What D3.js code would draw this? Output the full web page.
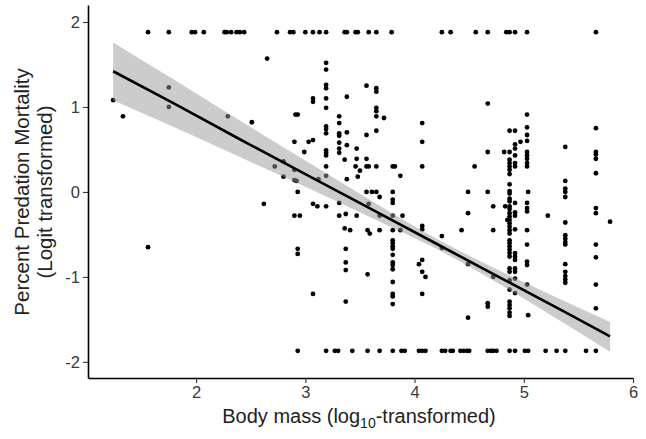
<!DOCTYPE html>
<html>
<head>
<meta charset="utf-8">
<script src="https://cdn.jsdelivr.net/npm/d3@7"></script>
<style>
body { margin: 0; background: #fff; }
text { font-family: "Liberation Sans", Arial, sans-serif; }
</style>
</head>
<body>
<div id="chart"></div>
<script>
// body mass values of the points sitting on the top cap (logit = 1.88)
var topRowMass = [1.56, 1.75, 1.96, 1.99, 2.07, 2.26, 2.28, 2.32, 2.37, 2.40, 2.44, 2.74,
	2.86, 2.89, 3.00, 3.07, 3.13, 3.19, 3.36, 3.38, 3.46, 3.48, 3.58, 3.65, 3.79, 4.25,
	4.33, 4.56, 4.67, 4.84, 4.87, 4.92, 5.03, 5.66];
var topRowMort = 1.88;

// and the ones on the bottom cap (logit = -1.87)
var bottomRowMass = [2.93, 3.19, 3.27, 3.30, 3.43, 3.57, 3.68, 3.80, 3.88, 3.91, 4.04, 4.07,
	4.10, 4.25, 4.28, 4.33, 4.35, 4.42, 4.45, 4.48, 4.50, 4.67, 4.70, 4.72, 4.75, 4.87,
	4.92, 5.01, 5.04, 5.20, 5.30, 5.38, 5.57, 5.66];
var bottomRowMort = -1.87;

// everything in between: [body mass, mortality]
var midPoints = [
	[1.24, 1.08], [1.33, 0.89], [1.75, 1.23], [1.75, 1.00], [1.56, -0.65], [2.29, 0.89],
	[2.51, 0.82], [2.65, 1.57], [2.62, -0.14], [2.72, 0.30], [2.80, 0.36], [2.80, 0.18],
	[2.90, 0.59], [2.90, 0.26], [2.90, 0.14], [2.90, -0.28], [2.91, 0.91], [2.93, 0.91],
	[2.92, 0.13], [2.93, 0.00], [2.95, -0.28], [2.93, -0.67], [2.93, -0.73], [2.99, 0.47],
	[3.03, 0.59], [3.07, 0.61], [3.07, 1.10], [3.07, 1.06], [3.07, -0.14], [3.11, -0.17],
	[3.07, -1.20], [3.12, 0.15],
	[3.19, 1.52], [3.19, 1.44], [3.19, 1.26], [3.19, 1.22], [3.19, 1.10], [3.19, 0.99],
	[3.19, 0.77], [3.19, 0.74], [3.19, 0.69], [3.19, 0.49], [3.19, 0.46], [3.19, 0.43],
	[3.19, 0.30], [3.19, 0.19], [3.19, -0.17],
	[3.31, 0.89], [3.31, 0.81], [3.31, 0.69], [3.31, 0.66], [3.31, 0.58], [3.31, 0.51],
	[3.31, 0.46], [3.31, -0.13], [3.31, -0.28], [3.36, 0.38], [3.38, 1.12], [3.38, 0.70],
	[3.38, 0.55], [3.38, 0.15], [3.37, -0.26], [3.36, -0.43], [3.41, -0.45], [3.37, -0.67],
	[3.37, -0.83], [3.37, -0.92], [3.37, -1.29],
	[3.47, 0.51], [3.47, 0.39], [3.46, 0.30], [3.50, 0.25], [3.48, 0.18], [3.47, -0.28],
	[3.56, 1.25], [3.56, 0.67], [3.56, 0.39], [3.56, 0.30], [3.58, 0.30], [3.56, 0.00],
	[3.58, -0.14], [3.57, -0.45], [3.59, -0.49], [3.57, -0.97], [3.61, 0.00],
	[3.65, 1.22], [3.65, 1.18], [3.65, 0.99], [3.65, 0.95], [3.65, 0.89], [3.65, 0.72],
	[3.65, 0.30], [3.65, 0.00], [3.68, -0.06], [3.68, -0.28], [3.68, -0.45], [3.72, 0.87],
	[3.80, 0.30], [3.82, 0.30], [3.80, 0.00], [3.80, -0.09], [3.80, -0.13], [3.80, -0.28],
	[3.80, -0.45], [3.80, -0.57], [3.80, -0.60], [3.80, -0.64], [3.80, -0.67], [3.80, -0.74],
	[3.80, -0.83], [3.80, -0.86], [3.80, -0.91], [3.80, -1.06], [3.80, -1.20], [3.80, -1.23],
	[3.80, -1.32], [3.87, 0.19], [3.89, -0.28], [3.87, -0.45],
	[4.07, 0.81], [4.07, 0.59], [4.07, 0.30], [4.07, -0.40], [4.07, -0.44], [4.04, -0.85],
	[4.07, -0.80], [4.07, -0.94], [4.10, -1.00], [4.07, -1.20], [4.25, -0.52], [4.25, -0.66],
	[4.43, -0.45], [4.49, 0.00], [4.49, -0.25], [4.49, -0.85], [4.49, -1.48], [4.55, 0.30],
	[4.67, 1.04], [4.67, 0.47], [4.67, 0.00], [4.67, -1.31], [4.67, -1.35], [4.72, -0.17],
	[4.72, -0.45], [4.72, -1.00], [4.82, 0.47], [4.83, -0.17], [4.85, -0.33],
	[4.87, 0.72], [4.87, 0.47], [4.87, 0.38], [4.87, 0.34], [4.87, 0.30], [4.87, 0.26],
	[4.87, 0.21], [4.87, 0.09], [4.87, 0.01], [4.87, -0.02], [4.87, -0.08], [4.87, -0.11],
	[4.87, -0.17], [4.87, -0.20], [4.87, -0.25], [4.87, -0.29], [4.87, -0.33], [4.87, -0.37],
	[4.87, -0.41], [4.87, -0.45], [4.87, -0.49], [4.87, -0.57], [4.87, -0.60], [4.87, -0.64],
	[4.87, -0.68], [4.87, -0.72], [4.87, -0.76], [4.87, -0.90], [4.87, -0.94], [4.87, -1.04],
	[4.87, -1.15], [4.87, -1.29], [4.87, -1.33], [4.87, -1.37], [4.87, -1.42], [4.87, -1.46],
	[4.92, 0.72], [4.92, 0.56], [4.92, 0.51], [4.92, 0.43], [4.92, 0.34], [4.92, 0.30],
	[4.92, -0.13], [4.92, -0.24], [4.92, -0.28], [4.92, -0.44], [4.92, -0.72], [4.92, -0.76],
	[4.92, -0.80], [4.92, -0.90], [4.92, -0.94], [4.92, -1.02], [4.92, -1.19], [4.97, 0.59],
	[5.03, 0.91], [5.03, 0.76], [5.03, 0.67], [5.03, 0.60], [5.03, 0.47], [5.03, 0.43],
	[5.03, 0.39], [5.03, 0.34], [5.03, 0.30], [5.03, -0.13], [5.03, -0.19], [5.03, -0.23],
	[5.03, -0.45], [5.03, -0.62], [5.03, -0.82], [5.03, -0.86], [5.03, -1.09], [5.04, 0.00],
	[5.04, -1.45], [5.22, -0.28],
	[5.38, 0.53], [5.38, 0.13], [5.38, 0.04], [5.38, 0.00], [5.38, -0.06], [5.38, -0.36],
	[5.38, -0.51], [5.38, -0.55], [5.38, -0.59], [5.38, -0.62], [5.38, -0.85], [5.38, -0.94],
	[5.38, -0.99], [5.38, -1.03], [5.38, -1.07],
	[5.66, 0.75], [5.66, 0.47], [5.66, 0.44], [5.66, 0.39], [5.66, 0.22], [5.66, -0.19],
	[5.66, -0.25], [5.66, -0.62], [5.66, -0.77], [5.66, -1.09], [5.66, -1.37], [5.79, -0.35]
];

// linear fit and its confidence band
var fitMass = [1.24, 1.80, 2.40, 3.00, 3.60, 4.20, 4.80, 5.40, 5.79];
var fitMort = [1.42, 1.04, 0.62, 0.21, -0.20, -0.61, -1.02, -1.43, -1.70];
var bandLow = [1.08, 0.76, 0.41, 0.06, -0.30, -0.67, -1.10, -1.57, -1.88];
var bandHigh = [1.76, 1.32, 0.84, 0.37, -0.10, -0.55, -0.94, -1.30, -1.53];

var xTicks = [2, 3, 4, 5, 6];
var yTicks = [-2, -1, 0, 1, 2];

var w = 646;
var h = 439;
var margin = {top: 5, right: 13, bottom: 61, left: 88};

var svg = d3.select("#chart")
	.append("svg")
	.attr("width", w)
	.attr("height", h);

var x = d3.scaleLinear().domain([1.01, 6.0]).range([margin.left, w - margin.right]);
var y = d3.scaleLinear().domain([-2.19, 2.2]).range([h - margin.bottom, margin.top]);

// gather all points together
var allPoints = [];
topRowMass.forEach(function(m) { allPoints.push([m, topRowMort]); });
bottomRowMass.forEach(function(m) { allPoints.push([m, bottomRowMort]); });
midPoints.forEach(function(p) { allPoints.push(p); });

svg.append("g")
	.selectAll("circle")
	.data(allPoints)
	.enter()
	.append("circle")
	.attr("cx", function(d) { return x(d[0]); })
	.attr("cy", function(d) { return y(d[1]); })
	.attr("r", 2.4)
	.attr("fill", "#000");

// band drawn over the points, like geom_smooth does
var area = d3.area()
	.x(function(d, i) { return x(fitMass[i]); })
	.y0(function(d, i) { return y(bandLow[i]); })
	.y1(function(d, i) { return y(bandHigh[i]); })
	.curve(d3.curveMonotoneX);

svg.append("path")
	.datum(fitMass)
	.attr("d", area)
	.attr("fill", "#999")
	.attr("fill-opacity", 0.5);

var line = d3.line()
	.x(function(d, i) { return x(fitMass[i]); })
	.y(function(d, i) { return y(fitMort[i]); });

svg.append("path")
	.datum(fitMass)
	.attr("d", line)
	.attr("fill", "none")
	.attr("stroke", "#000")
	.attr("stroke-width", 2.6);

// plain hyphen for negatives, like the original
var fmt = function(d) { return String(d); };

var xAxis = svg.append("g")
	.attr("transform", "translate(0," + (h - margin.bottom) + ")")
	.call(d3.axisBottom(x).tickValues(xTicks).tickFormat(fmt)
		.tickSize(5).tickPadding(3).tickSizeOuter(0));

var yAxis = svg.append("g")
	.attr("transform", "translate(" + margin.left + ",0)")
	.call(d3.axisLeft(y).tickValues(yTicks).tickFormat(fmt)
		.tickSize(5).tickPadding(3).tickSizeOuter(0));

[xAxis, yAxis].forEach(function(a) {
	a.select(".domain").attr("stroke", "#000").attr("stroke-width", 1.6);
	a.selectAll(".tick line").attr("stroke", "#333").attr("stroke-width", 1.1);
	a.selectAll(".tick text")
		.attr("fill", "#3a3a3a")
		.style("font-size", "16.5px")
		.style("font-family", "'Liberation Sans', Arial, sans-serif");
});

// axis titles
var xTitle = svg.append("text")
	.attr("x", 359)
	.attr("y", 423)
	.attr("text-anchor", "middle")
	.attr("fill", "#222")
	.style("font-size", "20px");
xTitle.append("tspan").text("Body mass (log");
xTitle.append("tspan").attr("dy", 5).style("font-size", "14px").text("10");
xTitle.append("tspan").attr("dy", -5).text("-transformed)");

svg.append("text")
	.attr("transform", "translate(29,192) rotate(-90)")
	.attr("text-anchor", "middle")
	.attr("fill", "#222")
	.style("font-size", "20.5px")
	.text("Percent Predation Mortality");

svg.append("text")
	.attr("transform", "translate(52,192) rotate(-90)")
	.attr("text-anchor", "middle")
	.attr("fill", "#222")
	.style("font-size", "20.5px")
	.text("(Logit transformed)");
</script>
</body>
</html>
